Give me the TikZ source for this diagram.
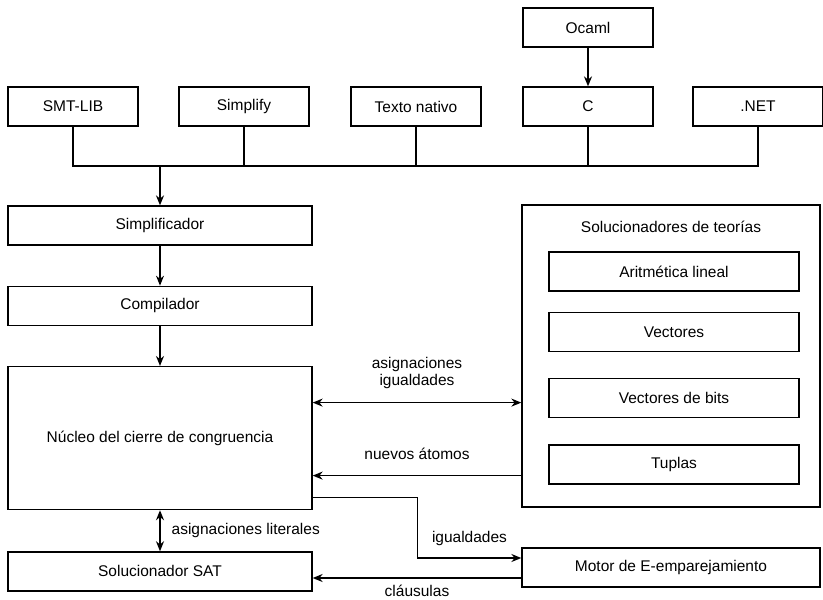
\documentclass[tikz,border=0pt]{standalone}
\usepackage{fontspec}
\setmainfont{Liberation Sans}
\usetikzlibrary{arrows.meta}
\usetikzlibrary{positioning}
\newcommand{\diagfont}{\fontsize{15.5}{17}\selectfont}
\tikzstyle{block} = [rectangle, draw, minimum width=130pt, minimum height=39pt, inner sep=0pt]
\tikzstyle{wide} = [block, minimum width=304pt]
\tikzstyle{inner} = [block, minimum width=250pt]
\tikzstyle{line} = [draw, -{Stealth[length=10pt,width=8pt]}]
\tikzstyle{dline} = [draw, {Stealth[length=10pt,width=8pt]}-{Stealth[length=10pt,width=8pt]}]
\tikzstyle{edge} = [draw, -]
\tikzstyle{tag} = [inner sep=0pt, align=center]

\begin{document}
\begin{tikzpicture}[x=1pt, y=-1pt, line width=1.3pt, font=\diagfont]
  \useasboundingbox (0,0) rectangle (823,600);
  % Place nodes
  \node [block] (ocaml) at (588,27.5) {Ocaml};
  \node [block] (smtlib) at (73,106.5) {SMT-LIB};
  \node [block] (simplify) at (244,106.5) {Simplify};
  \node [block] (texto) at (416,106.5) {Texto nativo};
  \node [block] (c) at (588,106.5) {C};
  \node [block] (net) at (758,106.5) {.NET};

  \node [wide] (simp) at (160,225.5) {Simplificador};
  \node [wide, below=40pt of simp] (comp) {Compilador};
  \node [wide, minimum height=143pt, below=40pt of comp] (nucleo) {Núcleo del cierre de congruencia};
  \node [wide, below=41pt of nucleo] (sat) {Solucionador SAT};

  \node [block, minimum width=298pt, minimum height=302pt] (teorias) at (671,356) {};
  \node (titulo) at (671,227) {Solucionadores de teorías};
  \node [inner] (arit) at (674,271.5) {Aritmética lineal};
  \node [inner, below=20pt of arit] (vect) {Vectores};
  \node [inner, below=26pt of vect] (bits) {Vectores de bits};
  \node [inner, below=26pt of bits] (tuplas) {Tuplas};
  \node [block, minimum width=298pt] (motor) at (671,567.5) {Motor de E-emparejamiento};

  % Connectors
  \coordinate (bus) at (160,166);
  \path [line] (ocaml) -- (c);
  \path [edge] (smtlib) |- (net.south |- bus) -- (net);
  \path [edge] (simplify) -- (simplify |- bus);
  \path [edge] (texto) -- (texto |- bus);
  \path [edge] (c) -- (c |- bus);
  \path [line] (bus) -- (simp);
  \path [line] (simp) -- (comp);
  \path [line] (comp) -- (nucleo);

  \path [dline] (nucleo) -- node [right=11pt, tag] {asignaciones literales} (sat);
  \path [dline] ([yshift=35.5pt]nucleo.east) -- node [above=13.5pt, tag] {asignaciones\\igualdades}
    ([yshift=35.5pt]nucleo.east -| teorias.west);
  \path [line] ([yshift=-37.5pt]nucleo.east -| teorias.west) -- node [above=15pt, tag] {nuevos átomos}
    ([yshift=-37.5pt]nucleo.east);
  \path [line] ([yshift=-59.5pt]nucleo.east) -- ++(105,0) |- node [pos=0.75, above=11.5pt, tag] {igualdades}
    ([yshift=9.5pt]motor.west);
  \path [line] ([yshift=-10.5pt]motor.west) -- node [below=6.5pt, tag] {cláusulas}
    ([yshift=-10.5pt]motor.west -| sat.east);
\end{tikzpicture}
\end{document}
